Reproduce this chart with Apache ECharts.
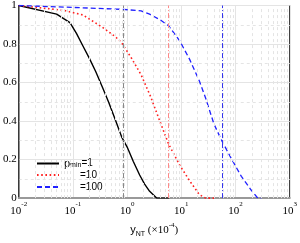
<!DOCTYPE html>
<html><head><meta charset="utf-8">
<script src="https://cdn.jsdelivr.net/npm/echarts@6/dist/echarts.min.js"></script>
<style>html,body{margin:0;padding:0;background:#fff}#c{width:300px;height:243px}</style>
</head><body><div id="c"></div>
<script>
var xBlack = [0.01, 0.05, 0.088, 0.116, 0.152, 0.2, 0.264, 0.35, 0.458, 0.6, 0.8, 1.0, 1.3, 1.7, 2.1, 2.6, 3.5, 6];
var yBlack = [1, 0.955, 0.911, 0.855, 0.791, 0.727, 0.656, 0.576, 0.496, 0.41, 0.315, 0.265, 0.19, 0.12, 0.073, 0.035, 0, 0];
var xRed = [0.01, 0.067, 0.152, 0.35, 0.6, 0.79, 1.2, 1.81, 2.7, 4.1, 5.8, 9.4, 14.3, 21.5, 28, 40];
var yRed = [1, 0.975, 0.951, 0.887, 0.839, 0.807, 0.727, 0.64, 0.528, 0.392, 0.281, 0.169, 0.089, 0.018, 0, 0];
var xBlue = [0.01, 0.1, 0.83, 1.81, 2.6, 4.1, 5.8, 9.4, 14.3, 21.5, 28, 40, 56, 85, 128, 194, 257, 300];
var yBlue = [1, 0.99, 0.98, 0.972, 0.955, 0.925, 0.895, 0.815, 0.719, 0.608, 0.52, 0.384, 0.297, 0.201, 0.113, 0.042, 0, 0];
var vLines = [0.83, 5.8, 56];
var seriesNames = ['pmin=1', '=10', '=100'];
var yTickLabels = ['0', '0.2', '0.4', '0.6', '0.8', '1'];
var xMin = 0.01, xMax = 1000;

function zip(xs, ys){ return xs.map(function(x,i){ return [x, ys[i]]; }); }
// minor log grid positions (2..9 x 10^k)
var minorGrid = [];
for (var e = -2; e < 3; e++) for (var m = 2; m <= 9; m++) minorGrid.push({xAxis: m * Math.pow(10, e)});

var serif = 'Liberation Serif';
var sans = 'Liberation Sans';
var chart = echarts.init(document.getElementById('c'), null, {renderer:'canvas'});
function mk(name, data, color, type, width, vline, vcolor){
  return {
    name: name, type: 'line', data: data, symbol: 'none', showSymbol: false,
    lineStyle: {color: color, width: width, type: type}, itemStyle: {color: color},
    animation: false, z: 3,
    markLine: {silent: true, symbol: 'none', label: {show: false},
      lineStyle: {color: vcolor, width: 1, type: [5, 2, 1, 2]},
      data: [{xAxis: vline}], animation: false}
  };
}
chart.setOption({
  animation: false,
  grid: {left: 14, right: 7, top: 3, bottom: 31, show: true, borderColor: '#000', borderWidth: 1},
  xAxis: {
    type: 'log', logBase: 10, min: xMin, max: xMax,
    axisLine: {show: true, lineStyle: {color: '#999', width: 2}},
    axisTick: {show: false},
    splitLine: {show: true, lineStyle: {color: '#e4e4e4', width: 1}},
    axisLabel: {
      margin: 3, color: '#000',
      formatter: function(v){ var e = Math.round(Math.log10(v)); return '{b|10}{s|' + e + '}'; },
      rich: {
        b: {fontFamily: serif, fontSize: 11, color: '#000', verticalAlign: 'bottom', lineHeight: 16},
        s: {fontFamily: serif, fontSize: 7, color: '#000', verticalAlign: 'top', lineHeight: 16}
      }
    },
    name: '{y|y}{sub|NT}{t| (×10}{sup|-4}{t|)}',
    nameLocation: 'middle', nameGap: 21,
    nameTextStyle: {
      rich: {
        y: {fontFamily: sans, fontSize: 11, color: '#000', verticalAlign: 'middle', lineHeight: 16},
        sub: {fontFamily: sans, fontSize: 7, color: '#000', verticalAlign: 'bottom', lineHeight: 16},
        t: {fontFamily: serif, fontSize: 11, color: '#000', verticalAlign: 'middle', lineHeight: 16},
        sup: {fontFamily: serif, fontSize: 7, color: '#000', verticalAlign: 'top', lineHeight: 16}
      }
    }
  },
  yAxis: {
    type: 'value', min: 0, max: 1, interval: 0.2,
    axisLine: {show: true, lineStyle: {color: '#000', width: 1}},
    axisTick: {show: false},
    splitLine: {show: true, lineStyle: {color: '#e4e4e4', width: 1}},
    minorTick: {show: false, splitNumber: 2},
    minorSplitLine: {show: true, lineStyle: {color: '#e4e4e4', width: 1, type: [3, 3]}},
    axisLabel: {margin: 2, fontFamily: serif, fontSize: 11, color: '#000',
      formatter: function(v){ return yTickLabels[Math.round(v * 5)]; }}
  },
  legend: {
    orient: 'vertical', left: 36, top: 158, itemWidth: 22, itemHeight: 10, itemGap: 0,
    padding: 0,
    itemStyle: {opacity: 0},
    data: seriesNames,
    formatter: function(n){
      if (n === seriesNames[0]) return '{p|p}{sub|min}{t|=1}';
      return '{pad|}{t|' + n + '}';
    },
    textStyle: {
      rich: {
        p: {fontFamily: sans, fontSize: 11, color: '#000', verticalAlign: 'middle', lineHeight: 11},
        sub: {fontFamily: sans, fontSize: 7, color: '#000', verticalAlign: 'bottom', lineHeight: 11},
        t: {fontFamily: sans, fontSize: 10, color: '#000', verticalAlign: 'middle', lineHeight: 11},
        pad: {width: 16, lineHeight: 11}
      }
    }
  },
  series: [
    mk(seriesNames[0], zip(xBlack, yBlack), '#000', 'solid', 1.4, vLines[0], '#888'),
    mk(seriesNames[1], zip(xRed, yRed), '#ff2020', [1.6, 2.6], 1.6, vLines[1], '#f88'),
    mk(seriesNames[2], zip(xBlue, yBlue), '#2020ff', [5, 3], 1.3, vLines[2], '#3333ee'),
    {type: 'line', data: [], silent: true, animation: false, z: 1,
     markLine: {silent: true, symbol: 'none', label: {show: false},
       lineStyle: {color: '#e4e4e4', width: 1, type: [3, 3]}, data: minorGrid, animation: false}}
  ]
});
</script></body></html>
